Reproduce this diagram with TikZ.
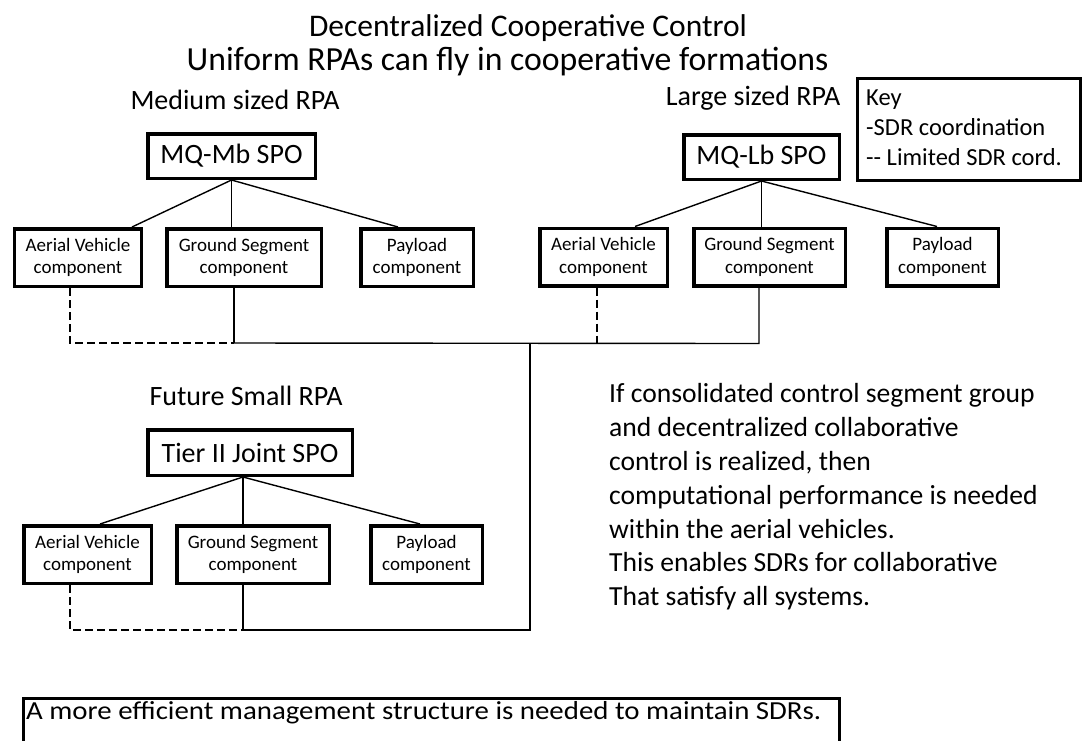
\documentclass[tikz,border=0pt]{standalone}
\usepackage{fontspec}
\setmainfont{Carlito}
\usetikzlibrary{calc}
\begin{document}
\begin{tikzpicture}[x=1pt,y=-1pt,
  box/.style={draw,line width=3.5pt,inner sep=0pt,align=center},
  comp/.style={box,minimum height=57.5pt,font=\fontsize{19}{22.5}\selectfont},
  spo/.style={box,minimum height=44.5pt,font=\fontsize{28}{32}\selectfont},
  lbl/.style={font=\fontsize{28}{32}\selectfont},
  conn/.style={line width=1.4pt},
  dconn/.style={conn,dash pattern=on 8pt off 4pt}]
\useasboundingbox (0,0) rectangle (1083,740);

% title
\node[lbl,font=\fontsize{31.5}{36}\selectfont] (title1) at (528,28) {Decentralized Cooperative Control};
\node[lbl,font=\fontsize{33.7}{38}\selectfont] (title2) at (507.5,62) {Uniform RPAs can fly in cooperative formations};

% medium
\node[lbl] (mlabel) at (235,100) {Medium sized RPA};
\node[spo,minimum width=167.5pt] (mqm) at (231.5,156) {MQ-Mb SPO};
\node[comp,minimum width=127pt] (mav) at (78,257.5) {Aerial Vehicle\\component};
\node[comp,minimum width=154.5pt] (mgs) at (244,257.5) {Ground Segment\\component};
\node[comp,minimum width=112.5pt] (mpl) at (417,257.5) {Payload\\component};

% large
\node[lbl] (llabel) at (753,98) {Large sized RPA};
\node[spo,minimum width=155.5pt] (mql) at (761.5,157) {MQ-Lb SPO};
\node[comp,minimum width=127.5pt] (lav) at (603.5,257) {Aerial Vehicle\\component};
\node[comp,minimum width=151.5pt] (lgs) at (769.5,257) {Ground Segment\\component};
\node[comp,minimum width=111.5pt] (lpl) at (942.5,257) {Payload\\component};

% key
\node[box,line width=3pt,anchor=north west,minimum width=223pt,minimum height=102pt]
  (key) at (855.5,76.5) {};
\node[anchor=west,align=left,inner sep=0pt,font=\fontsize{24.5}{30}\selectfont]
  (keytext) at (866,128) {Key\\-SDR coordination\\-{}- Limited SDR cord.};

% small
\node[lbl] (slabel) at (246,396) {Future Small RPA};
\node[spo,minimum width=204.5pt,minimum height=45.5pt] (tier) at (250,452.5) {Tier II Joint SPO};
\node[comp,minimum width=127.5pt] (sav) at (87.5,554.5) {Aerial Vehicle\\component};
\node[comp,minimum width=152.5pt] (sgs) at (253,554.5) {Ground Segment\\component};
\node[comp,minimum width=111.5pt] (spl) at (426.5,554.5) {Payload\\component};

% text
\node[anchor=west,align=left,inner sep=0pt,font=\fontsize{27.6}{33.8}\selectfont] (para) at (609,497)
 {If consolidated control segment group\\and decentralized collaborative\\control is realized, then\\computational performance is needed\\within the aerial vehicles.\\This enables SDRs for collaborative\\That satisfy all systems.};

% bottom box
\node[draw,line width=2.5pt,anchor=north west,minimum width=816pt,minimum height=80pt] (bottombox) at (22,697) {};
\node[anchor=west,inner sep=0pt,font=\fontsize{26}{30}\selectfont] (bottomtext) at (26,713)
 {\scalebox{1.11}[1]{A more efficient management structure is needed to maintain SDRs.}};

% medium connectors
\draw[conn] (mqm.south) -- ($(mav.north)+(54,0)$);
\draw[conn] (mqm.south) -- (mqm.south |- mgs.north);
\draw[conn] (mqm.south) -- ($(mpl.north)+(-19,0)$);
\coordinate (mjoin) at ($(mgs.south)+(-10,55)$);
\draw[dconn] ($(mav.south)+(-8,0)$) |- (mjoin);
\draw[conn] ($(mgs.south)+(-10,0)$) -- (mjoin);

% large connectors
\draw[conn] (mql.south) -- ($(lav.north)+(31.5,0)$);
\draw[conn] (mql.south) -- (mql.south |- lgs.north);
\draw[conn] (mql.south) -- ($(lpl.north)+(-5.5,0)$);
\coordinate (ljoin) at ($(lgs.south)+(-10.5,56)$);
\draw[dconn] ($(lav.south)+(-6.5,0)$) -- ($(lav.south)+(-6.5,56)$);
\draw[conn] ($(lgs.south)+(-10.5,0)$) -- (ljoin) -- (mjoin);

% small connectors
\coordinate (sapex) at ($(tier.south)+(-7,0)$);
\draw[conn] (sapex) -- ($(sav.north)+(12.5,0)$);
\draw[conn] (sapex) -- (sapex |- sgs.north);
\draw[conn] (sapex) -- ($(spl.north)+(-6.5,0)$);
\coordinate (sjoin) at ($(sgs.south)+(-10,45)$);
\coordinate (hub) at (530,343);
\draw[dconn] ($(sav.south)+(-17.5,0)$) |- (sjoin);
\draw[conn] ($(sgs.south)+(-10,0)$) -- (sjoin) -| (hub);
\end{tikzpicture}
\end{document}
